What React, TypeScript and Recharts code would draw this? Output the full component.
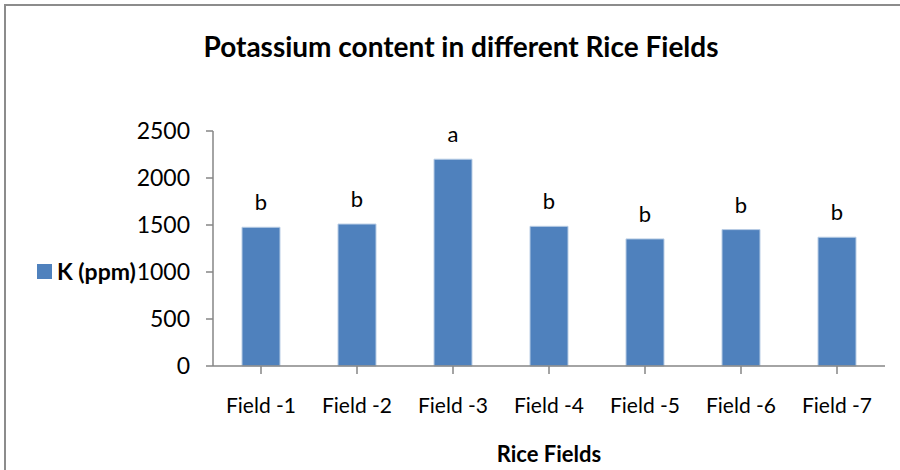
import React from "react";
import { BarChart, Bar, XAxis, YAxis, LabelList } from "recharts";

const categories = ["Field -1", "Field -2", "Field -3", "Field -4", "Field -5", "Field -6", "Field -7"];
const kValues = [1476, 1510, 2200, 1486, 1352, 1451, 1370];
const groupLetters = ["b", "b", "a", "b", "b", "b", "b"];
const yTicks = [0, 500, 1000, 1500, 2000, 2500];

const data = categories.map((c, i) => ({ name: c, k: kValues[i], letter: groupLetters[i] }));

const FONT = "Lato, 'Liberation Sans', sans-serif";
const AXIS = "#868686";

export default function App() {
  return (
    <div style={{ position: "fixed", left: 0, top: 0, width: 900, height: 470, background: "#fff", overflow: "hidden" }}>
      <div style={{ position: "absolute", left: 4, top: 4, width: 920, height: 490, border: "2px solid #8c8c8c", boxSizing: "border-box" }} />
      <div style={{ position: "absolute", left: 0, top: 28, width: 922, textAlign: "center", fontFamily: FONT, fontWeight: 700, fontSize: 28, lineHeight: "36px", color: "#000" }}>
        Potassium content in different Rice Fields
      </div>
      <div style={{ position: "absolute", left: 37, top: 258, display: "flex", alignItems: "center", fontFamily: FONT, fontWeight: 700, fontSize: 23, lineHeight: "26px", color: "#000", zIndex: 2 }}>
        <span style={{ display: "inline-block", width: 15, height: 15, background: "#4F81BD", marginRight: 5 }} />
        <span>K (ppm)</span>
      </div>
      <div style={{ position: "absolute", left: 0, top: 0 }}>
        <BarChart width={900} height={470} data={data} margin={{ top: 131, right: 15, bottom: 8, left: 8 }} barSize={38}>
          <YAxis
            domain={[0, 2500]}
            ticks={yTicks}
            width={205}
            interval={0}
            axisLine={{ stroke: AXIS, strokeWidth: 1.5 }}
            tickLine={{ stroke: AXIS, strokeWidth: 1.5 }}
            tickSize={7}
            tickMargin={16}
            tick={{ fill: "#000", fontSize: 23, fontFamily: FONT }}
          />
          <XAxis
            dataKey="name"
            height={96}
            axisLine={{ stroke: AXIS, strokeWidth: 1.5 }}
            tickLine={{ stroke: AXIS, strokeWidth: 1.5 }}
            tickSize={8}
            tickMargin={24}
            interval={0}
            tick={{ fill: "#000", fontSize: 21, fontFamily: FONT }}
            label={{ value: "Rice Fields", position: "insideBottom", offset: 0, fill: "#000", fontSize: 22, fontWeight: 700, fontFamily: FONT }}
          />
          <Bar dataKey="k" name="K (ppm)" fill="#4F81BD" stroke="#B9CDE5" strokeWidth={1} isAnimationActive={false}>
            <LabelList dataKey="letter" position="top" offset={17} fill="#000" fontSize={22} fontFamily={FONT} />
          </Bar>
        </BarChart>
      </div>
    </div>
  );
}
